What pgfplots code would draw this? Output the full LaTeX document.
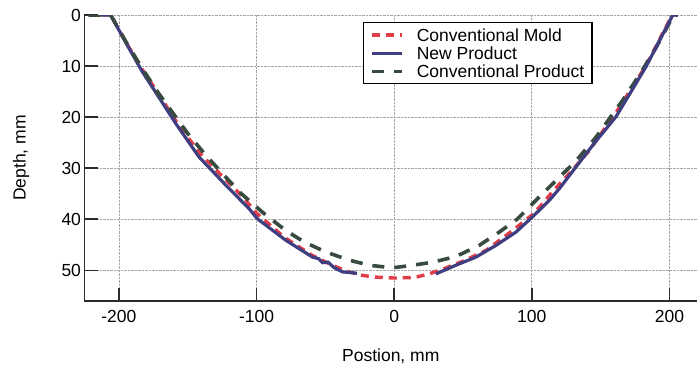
\documentclass[border=0pt]{standalone}
\usepackage{fontspec}
\setmainfont{Liberation Sans}
\usepackage{pgfplots}
\pgfplotsset{compat=1.18}
\definecolor{cblue}{RGB}{62,62,128}
\definecolor{cred}{RGB}{225,60,72}
\definecolor{cgreen}{RGB}{55,75,62}
\definecolor{caxis}{RGB}{45,45,45}
\begin{document}
\begin{tikzpicture}
\useasboundingbox (-84.5pt,-64pt) rectangle (612.5pt,301pt);
\begin{axis}[
  at={(0,0)}, anchor=south west,
  scale only axis, width=612.5pt, height=286pt,
  xmin=-225, xmax=220, ymin=-56, ymax=0,
  y filter/.expression={-y},
  axis x line=bottom, axis y line=left,
  axis line style={-, line width=1.6pt, color=caxis},
  xtick={-200,-100,0,100,200},
  ytick={-50,-40,-30,-20,-10,0},
  yticklabels={50,40,30,20,10,0},
  tick align=inside,
  major tick length=13pt,
  tick style={line width=1.6pt, color=caxis},
  grid=major,
  grid style={densely dotted, gray!70, line width=0.7pt},
  font=\fontsize{17.5}{21}\selectfont,
  /pgf/number format/assume math mode=true,
  xticklabel style={font=\fontsize{17.5}{21}\selectfont, yshift=-6pt},
  yticklabel style={font=\fontsize{17.5}{21}\selectfont},
  xlabel={Postion, mm},
  ylabel={Depth, mm},
  xlabel style={at={(axis description cs:0.5,-0.21)}, anchor=base},
  ylabel style={at={(axis description cs:-0.1037,0.5)}, anchor=center, rotate=0},
  legend cell align=left,
  legend style={at={(axis description cs:0.830,0.9755)}, anchor=north east,
    draw=black, line width=1.4pt, font=\fontsize{17.5}{21}\selectfont,
    inner xsep=7pt, inner ysep=5pt, row sep=3.5pt,
    nodes={inner sep=1pt, text depth=0pt},
    /tikz/every odd column/.append style={column sep=12pt}},
  legend image code/.code={\draw[#1] plot coordinates {(0pt,0pt) (15pt,0pt) (30pt,0pt)};},
]
\addplot[cred, line width=3.4pt, dash pattern=on 8pt off 6pt] coordinates {
(-222,0)(-206,0)(-195,5.3)(-183,10.7)(-177,13.1)(-170,16)(-158,21)(-142,26.8)
(-127,31)(-110,35.6)(-100,38.8)(-80,43.5)(-60,47)(-45,49)(-35,50.1)(-25,50.9)
(-15,51.3)(0,51.5)(15,51.4)(25,50.7)(35,49.8)(50,48.2)(66.7,46.1)(86,42.2)
(100,39.2)(108,36.9)(115,34.6)(130,30.2)(141.8,26.5)(162.4,18.6)(183,9.9)
(202,0)(206,0)};
\addlegendentry{Conventional Mold}
\addplot[cblue, line width=3.2pt] coordinates {
(-222,0)(-206,0)(-195,5.4)(-183,11.1)(-170,16.5)(-158.8,21.2)(-141.8,27.8)
(-122.4,33.3)(-105.5,37.9)(-99.4,39.9)(-78.8,44.1)(-59.4,47.4)(-55,47.7)
(-52,48.5)(-48,48.4)(-44,49.4)(-37.6,50.3)(-29,50.5)(-27,50.6)};
\addlegendentry{New Product}
\addplot[cgreen, line width=3.6pt, dash pattern=on 12pt off 10pt] coordinates {
(-222,0)(-206,0)(-195,5.2)(-183,10.5)(-171,15.4)(-150,23.2)(-138,27.1)
(-125,31)(-111,35)(-95.8,38.6)(-78.8,42.2)(-65,44.5)(-49.7,46.4)(-32.7,48)
(-18,49)(-1.5,49.5)(11,49.1)(28,48.4)(44.8,47.3)(61.8,45.1)(76.4,42.5)
(89.7,39.9)(105.5,35.6)(117.6,32.4)(132,28.6)(146.7,23.9)(166,16.7)
(178,11.8)(190,6.5)(203,0)(206,0)};
\addlegendentry{Conventional Product}
\addplot[cblue, line width=3.2pt, forget plot] coordinates {
(30.3,50.7)(44.8,49)(59.4,47.4)(74,45.1)(88.5,42.5)(100.6,39.5)(112.7,36.3)
(120,34)(132.2,29.7)(146,24.9)(161.2,19.9)(183,10.1)(202.4,0)(206,0)};
\end{axis}
\end{tikzpicture}
\end{document}
